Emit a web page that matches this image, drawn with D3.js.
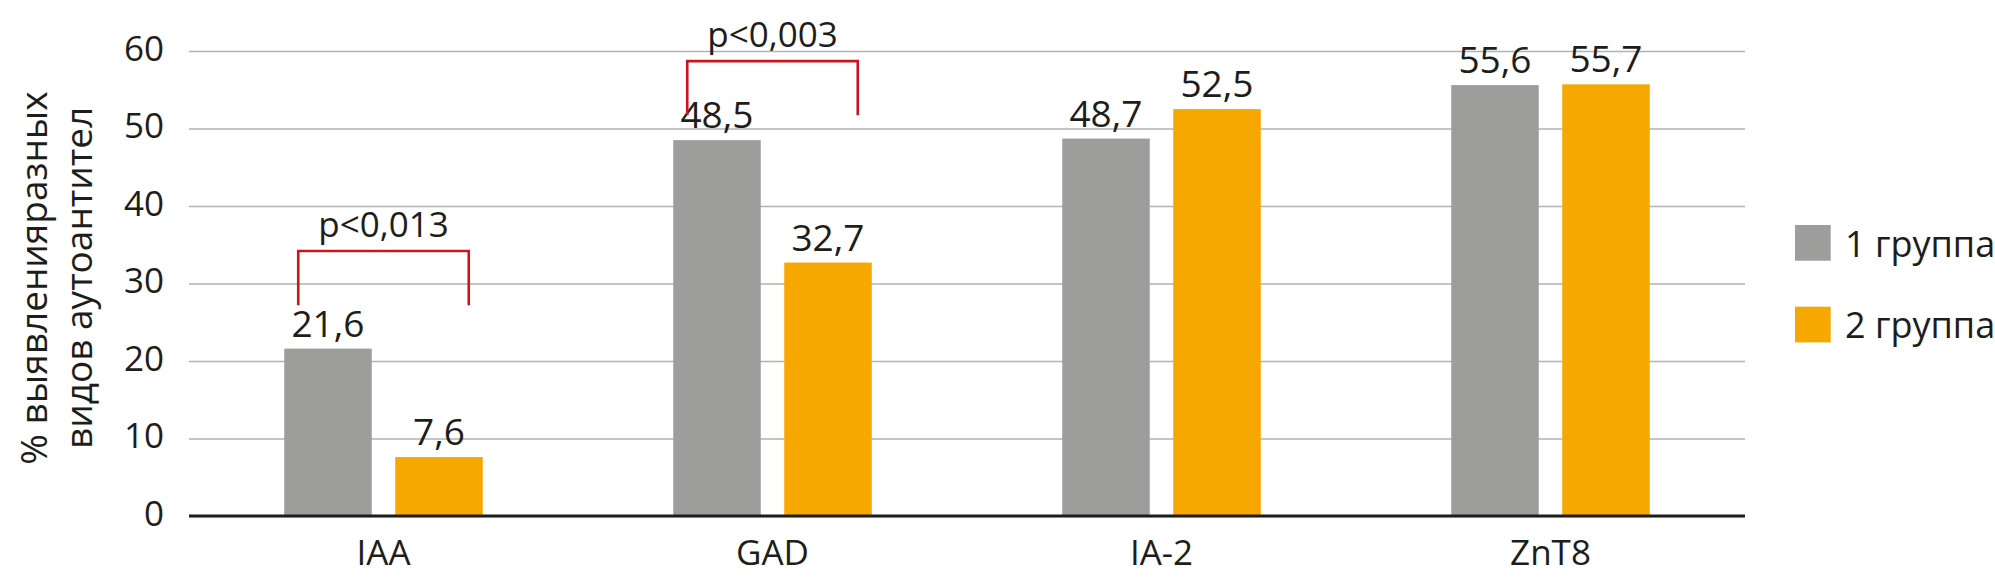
<!DOCTYPE html>
<html>
<head>
<meta charset="utf-8">
<script src="https://cdn.jsdelivr.net/npm/d3@7"></script>
<style>
  html, body { margin: 0; padding: 0; background: #fff; }
  svg { display: block; font-family: "Open Sans", sans-serif; }
</style>
</head>
<body>
<svg id="chart" width="1995" height="583"></svg>
<script>
// данные диаграммы
var categories = ["IAA", "GAD", "IA-2", "ZnT8"];
var groups = ["1 группа", "2 группа"];
var group1 = [21.6, 48.5, 48.7, 55.6];
var group2 = [7.6, 32.7, 52.5, 55.7];
var yTicks = [0, 10, 20, 30, 40, 50, 60];

// скобки значимости
var bracketCats = ["IAA", "GAD"];
var bracketTop = [34.2, 58.7];
var bracketBottom = [27.2, 51.7];
var bracketLabels = ["p<0,013", "p<0,003"];

var colors = ["#9d9d9c", "#f6a800"];

var svg = d3.select("#chart");
var plotLeft = 189, plotRight = 1745, plotTop = 51, plotBottom = 516;

var x0 = d3.scaleBand().domain(categories).range([plotLeft, plotRight]).padding(0);
var x1 = d3.scaleBand().domain(groups).range([0, x0.bandwidth()])
    .paddingInner(0.2117).paddingOuter(0.858);
var y = d3.scaleLinear().domain([0, 60]).range([plotBottom, plotTop]);

// сетка и подписи оси Y
var yAxis = svg.append("g")
    .attr("transform", "translate(" + plotLeft + ",0)")
    .call(d3.axisLeft(y).tickValues(yTicks).tickSize(-(plotRight - plotLeft)).tickPadding(25));
yAxis.attr("font-family", null).attr("font-size", null);
yAxis.select(".domain").remove();
yAxis.selectAll(".tick line").attr("stroke", "#b2b2b2").attr("stroke-width", 1.4);
yAxis.selectAll(".tick text")
    .attr("font-size", 35).attr("fill", "#1d1d1b")
    .attr("dy", null).attr("y", 9);

// столбцы
var series = [group1, group2];
var barData = [];
categories.forEach(function (c, i) {
    groups.forEach(function (g, j) {
        barData.push({ cat: c, group: g, value: series[j][i], color: colors[j] });
    });
});

svg.append("g").selectAll("rect")
    .data(barData)
    .enter()
    .append("rect")
    .attr("x", function (d) { return x0(d.cat) + x1(d.group); })
    .attr("y", function (d) { return y(d.value); })
    .attr("width", x1.bandwidth())
    .attr("height", function (d) { return y(0) - y(d.value); })
    .attr("fill", function (d) { return d.color; });

// подписи значений
svg.append("g").selectAll("text")
    .data(barData)
    .enter()
    .append("text")
    .attr("x", function (d) { return x0(d.cat) + x1(d.group) + x1.bandwidth() / 2; })
    .attr("y", function (d) { return y(d.value) - 12; })
    .attr("text-anchor", "middle")
    .attr("font-size", 37)
    .attr("fill", "#1d1d1b")
    .text(function (d) { return d.value.toFixed(1).replace(".", ","); });

// ось X
svg.append("line")
    .attr("x1", plotLeft).attr("x2", plotRight)
    .attr("y1", y(0)).attr("y2", y(0))
    .attr("stroke", "#1d1d1b").attr("stroke-width", 3);

var xAxis = svg.append("g")
    .attr("transform", "translate(0," + plotBottom + ")")
    .call(d3.axisBottom(x0).tickSize(0).tickPadding(0));
xAxis.attr("font-family", null).attr("font-size", null);
xAxis.select(".domain").remove();
xAxis.selectAll(".tick text")
    .attr("font-size", 35).attr("fill", "#1d1d1b")
    .attr("dy", null).attr("y", 49);

// скобки p
bracketCats.forEach(function (c, i) {
    var xl = x0(c) + x1(groups[0]) + 14;
    var xr = x0(c) + x1(groups[1]) + x1.bandwidth() - 14;
    var path = d3.path();
    path.moveTo(xl, y(bracketBottom[i]));
    path.lineTo(xl, y(bracketTop[i]));
    path.lineTo(xr, y(bracketTop[i]));
    path.lineTo(xr, y(bracketBottom[i]));
    svg.append("path")
        .attr("d", path.toString())
        .attr("fill", "none")
        .attr("stroke", "#c9161d")
        .attr("stroke-width", 2.6);
    svg.append("text")
        .attr("x", x0(c) + x0.bandwidth() / 2)
        .attr("y", y(bracketTop[i]) - 14)
        .attr("text-anchor", "middle")
        .attr("font-size", 35)
        .attr("fill", "#1d1d1b")
        .text(bracketLabels[i]);
});

// подпись оси Y
var yTitle = svg.append("text")
    .attr("transform", "translate(0,278) rotate(-90)")
    .attr("text-anchor", "middle")
    .attr("font-size", 37)
    .attr("fill", "#1d1d1b");
yTitle.append("tspan").attr("x", 0).attr("y", 47).text("% выявленияразных");
yTitle.append("tspan").attr("x", 0).attr("y", 92).text("видов аутоантител");

// легенда
var legend = svg.append("g").selectAll("g")
    .data(groups)
    .enter()
    .append("g")
    .attr("transform", function (d, i) { return "translate(1795," + (225 + i * 81.7) + ")"; });
legend.append("rect")
    .attr("width", 35.7).attr("height", 35.7)
    .attr("fill", function (d, i) { return colors[i]; });
legend.append("text")
    .attr("x", 50).attr("y", 31.5)
    .attr("font-size", 36)
    .attr("fill", "#1d1d1b")
    .text(function (d) { return d; });
</script>
</body>
</html>
